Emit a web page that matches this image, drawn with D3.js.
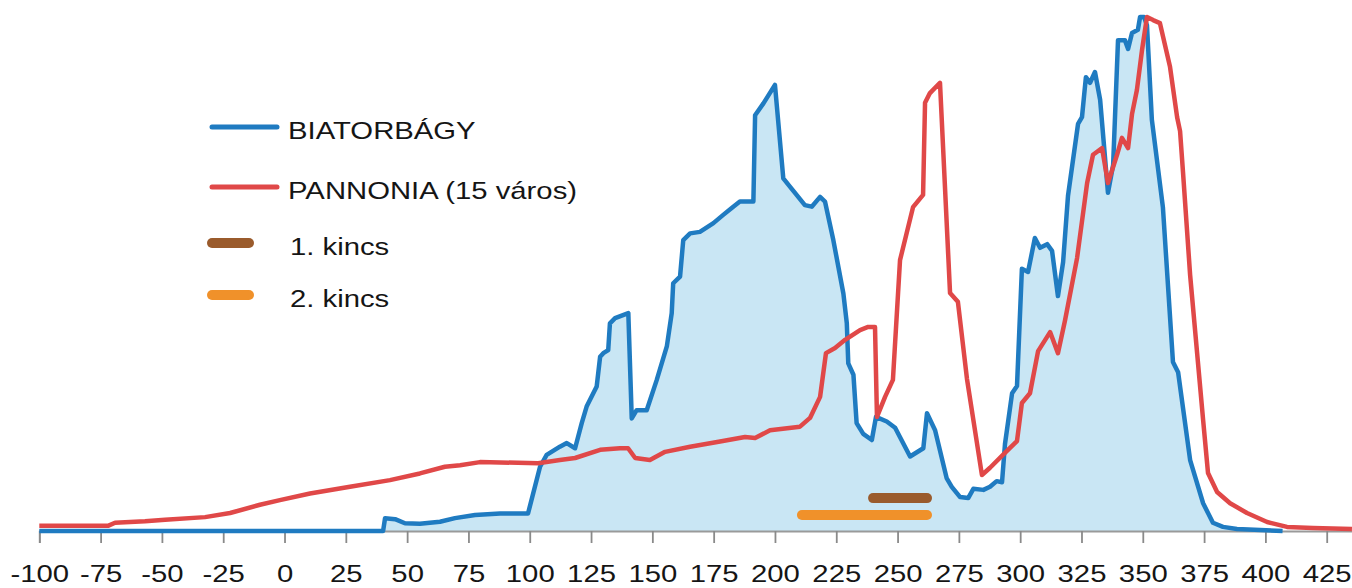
<!DOCTYPE html>
<html>
<head>
<meta charset="utf-8">
<script src="https://cdn.jsdelivr.net/npm/d3@7"></script>
<style>
  body { margin: 0; background: #fff; }
  text { font-family: "Liberation Sans", Arial, sans-serif; fill: #151515; }
</style>
</head>
<body>
<svg></svg>
<script>
let w = 1352;
let h = 588;

// BIATORBÁGY: [év, érték]
const biatorbagy = [
  [-100, 0], [40.2, 0], [41.0, 2.5], [45.1, 2.3], [49.1, 1.5], [55.2, 1.4], [63.4, 1.8],
  [69.5, 2.5], [77.7, 3.1], [87.9, 3.4], [99.3, 3.4], [104.2, 12.5], [106.9, 14.8],
  [112.3, 16.4], [115.1, 17.1], [118.5, 16.1], [121.2, 21.0], [123.2, 24.2], [127.3, 28.1],
  [128.7, 33.9], [130.0, 34.6], [132.0, 35.2], [132.7, 40.4], [134.8, 41.4], [140.2, 42.4],
  [141.6, 21.9], [143.6, 23.5], [147.7, 23.5], [151.8, 29.4], [155.9, 35.9], [157.9, 42.4],
  [158.5, 48.2], [161.3, 49.5], [162.6, 56.6], [165.4, 57.9], [169.4, 58.2], [174.9, 59.9],
  [178.9, 61.5], [183.0, 63.1], [185.7, 64.1], [191.2, 64.1], [191.9, 80.9], [195.3, 83.2],
  [200.0, 86.8], [203.4, 68.6], [206.1, 67.0], [212.2, 63.4], [215.0, 63.1], [218.4, 65.0],
  [220.4, 64.1], [223.8, 56.6], [227.9, 46.2], [229.3, 40.4], [229.9, 32.6], [232.0, 30.4],
  [233.3, 21.0], [236.0, 18.9], [239.5, 17.7], [241.2, 22.2], [245.6, 21.3], [249.0, 20.1],
  [255.1, 14.5], [260.5, 16.1], [262.0, 22.9], [265.3, 19.6], [270.0, 10.3], [272.1, 8.6],
  [275.5, 6.6], [278.8, 6.4], [280.9, 8.2], [285.0, 8.0], [287.7, 8.6], [290.4, 9.7],
  [292.6, 9.5], [293.8, 16.9], [296.7, 26.8], [298.7, 28.2], [300.7, 51.0], [303.2, 50.4],
  [306.0, 57.0], [308.1, 55.1], [311.0, 55.8], [313.0, 54.5], [315.4, 45.7], [317.5, 52.3],
  [319.5, 65.2], [323.6, 79.2], [325.2, 80.5], [326.8, 88.3], [328.5, 87.2], [330.5, 89.3],
  [332.6, 83.9], [335.8, 65.8], [337.9, 71.2], [339.9, 95.5], [342.7, 95.5], [344.0, 93.8],
  [345.6, 96.9], [348.0, 97.5], [348.9, 100], [350.5, 100], [351.7, 98.4], [353.7, 80.0],
  [358.2, 63.0], [362.3, 32.9], [364.4, 30.9], [369.3, 13.8], [374.6, 5.4], [378.6, 1.6],
  [382.7, 0.8], [388.4, 0.4], [407, 0]
];

// PANNONIA (15 város)
const pannonia = [
  [-100, 1.0], [-72.0, 1.0], [-69.1, 1.6], [-56.9, 1.9], [-48.7, 2.2], [-32.4, 2.7],
  [-22.2, 3.5], [-10.0, 5.1], [-1.9, 6.0], [10.4, 7.3], [26.7, 8.6], [43.0, 9.9],
  [55.2, 11.2], [65.4, 12.5], [71.6, 12.8], [79.7, 13.4], [103.4, 13.2], [112.3, 13.8],
  [118.5, 14.2], [128.7, 15.8], [136.8, 16.1], [140.1, 16.1], [143.0, 14.2], [149.0, 13.8],
  [155.2, 15.4], [165.4, 16.4], [177.6, 17.4], [187.8, 18.3], [191.9, 18.1], [198.0, 19.6],
  [210.2, 20.3], [214.3, 22.0], [218.4, 26.1], [220.8, 34.6], [224.5, 35.6], [228.6, 37.2],
  [234.7, 39.1], [238.0, 39.7], [240.8, 39.7], [241.6, 22.2], [244.9, 26.1], [248.1, 29.4],
  [251.0, 52.7], [256.3, 63.0], [260.4, 65.4], [261.2, 83.3], [263.2, 85.2], [267.3, 87.2],
  [271.4, 46.3], [274.6, 44.6], [278.3, 29.6], [284.4, 10.9], [287.7, 12.3], [294.6, 15.6],
  [298.7, 17.5], [300.7, 24.9], [304.0, 26.8], [307.3, 35.0], [312.2, 38.7], [315.4, 34.6],
  [318.3, 41.0], [323.2, 53.1], [327.3, 67.7], [329.7, 73.2], [333.4, 74.5], [335.8, 67.7],
  [339.5, 73.2], [341.5, 76.5], [344.0, 74.5], [345.6, 81.1], [347.6, 85.8], [349.7, 93.6],
  [351.7, 100], [354.2, 99.4], [357.0, 98.8], [361.1, 90.3], [364.0, 80.5], [365.2, 77.8],
  [366.4, 69.8], [369.3, 49.8], [374.6, 21.6], [376.6, 11.3], [380.3, 7.6], [385.6, 5.4],
  [392.5, 3.5], [400.7, 1.75], [408.8, 0.8], [419.4, 0.6], [435.3, 0.4]
];

// kincsek: [kezdet, vég, szint]
const kincs1 = [240, 262, 6.4];
const kincs2 = [211, 262, 3.1];

const xTicks = d3.range(-100, 426, 25);
const legendLabels = ['BIATORBÁGY', 'PANNONIA (15 város)', '1. kincs', '2. kincs'];
const legendColors = ['#1f7bc1', '#e04848', '#9a5b2c', '#f0912a'];

const svg = d3.select('svg')
  .attr('width', w)
  .attr('height', h)

const xScale = d3.scaleLinear()
  .domain([-100, 435.6])
  .range([39.3, 1352.7])

const yScale = d3.scaleLinear()
  .domain([0, 100])
  .range([531, 17])

// Area under Biatorbágy
const area = d3.area()
  .x(d => xScale(d[0]))
  .y0(yScale(0))
  .y1(d => yScale(d[1]))

svg.append('path')
  .datum(biatorbagy)
  .attr('d', area)
  .attr('fill', '#c9e6f4')

// Axis
const xAxis = d3.axisBottom(xScale)
  .tickValues(xTicks)
  .tickSize(12)
  .tickPadding(22)
  .tickFormat(d => String(d))

const gx = svg.append('g')
  .attr('transform', 'translate(0,' + yScale(0) + ')')
  .call(xAxis)

gx.select('.domain').attr('stroke', '#9a9a9a').attr('stroke-width', 1.8)
gx.selectAll('.tick line').attr('stroke', '#8a8a8a').attr('stroke-width', 1.8)
gx.selectAll('.tick text')
  .attr('font-size', 24)
  .attr('font-family', '"Liberation Sans", Arial, sans-serif')
  .attr('fill', '#151515')
  .attr('transform', 'scale(1.22,1)')

// Lines
const line = d3.line()
  .x(d => xScale(d[0]))
  .y(d => yScale(d[1]))

svg.append('path')
  .datum(biatorbagy)
  .attr('d', line)
  .attr('fill', 'none')
  .attr('stroke', legendColors[0])
  .attr('stroke-width', 4.5)
  .attr('stroke-linejoin', 'round')

svg.append('path')
  .datum(pannonia)
  .attr('d', line)
  .attr('fill', 'none')
  .attr('stroke', legendColors[1])
  .attr('stroke-width', 4.5)
  .attr('stroke-linejoin', 'round')

// Kincs bars
const kincsek = [kincs1, kincs2];
svg.selectAll('line.kincs')
  .data(kincsek)
  .enter()
  .append('line')
  .attr('class', 'kincs')
  .attr('x1', d => xScale(d[0]))
  .attr('x2', d => xScale(d[1]))
  .attr('y1', d => yScale(d[2]))
  .attr('y2', d => yScale(d[2]))
  .attr('stroke', (d, i) => legendColors[i + 2])
  .attr('stroke-width', 10)
  .attr('stroke-linecap', 'round')

// Legend
const legendY = [127, 187, 243, 295];
const legend = svg.append('g')

legendLabels.forEach((label, i) => {
  const isLine = i < 2;
  legend.append('line')
    .attr('x1', 212)
    .attr('x2', isLine ? 277 : 249)
    .attr('y1', legendY[i])
    .attr('y2', legendY[i])
    .attr('stroke', legendColors[i])
    .attr('stroke-width', isLine ? 5 : 10)
    .attr('stroke-linecap', 'round')

  legend.append('text')
    .attr('transform', 'translate(' + (isLine ? 288 : 290) + ',' + (legendY[i] + 12) + ') scale(1.22,1)')
    .attr('font-size', 24)
    .text(label)
})
</script>
</body>
</html>
